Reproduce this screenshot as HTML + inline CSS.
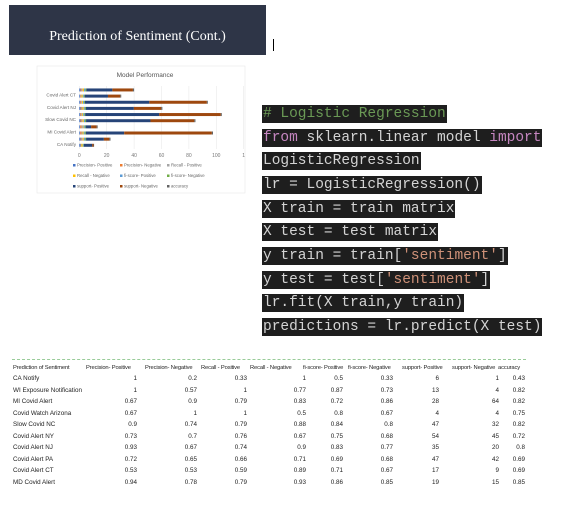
<!DOCTYPE html>
<html><head><meta charset="utf-8"><style>
body{margin:0;width:565px;height:532px;background:#fff;position:relative;overflow:hidden;font-family:"Liberation Sans",sans-serif}
.abs{position:absolute}
.code{position:absolute;left:262px;height:18px;line-height:18px;background:#1e1e1e;color:#d4d4d4;font-family:"Liberation Mono",monospace;font-size:14.5px;white-space:pre;padding:0 1px}
.kw{color:#c586c0}.str{color:#ce9178}.cm{color:#6a9955}
.t{position:absolute;font-size:6.3px;color:#222;white-space:nowrap;line-height:8px}
.h{font-size:5.8px;letter-spacing:-0.15px}
</style></head><body>
<div class="abs" style="left:9px;top:5px;width:257px;height:50px;background:#2e3547"></div>
<div class="abs" style="left:9px;top:29px;width:257px;text-align:center;color:#fff;font-family:'Liberation Serif',serif;font-size:14px;line-height:16px">Prediction of Sentiment (Cont.)</div>
<div class="abs" style="left:273px;top:39px;width:1px;height:12px;background:#000"></div>

<svg class="abs" style="left:0;top:0" width="565" height="532">
<rect x="37" y="66" width="208" height="127" fill="#fff" stroke="#e8e8e8" stroke-width="0.6"/>
<text x="145" y="77" font-size="6.5" text-anchor="middle" fill="#555">Model Performance</text>
<g id="plot"></g>
</svg>

<div>
<div class="code" style="top:105px"><span class="cm"># Logistic Regression</span></div>
<div class="code" style="top:129px"><span class="kw">from</span> sklearn.linear model <span class="kw">import</span></div>
<div class="code" style="top:152px">LogisticRegression</div>
<div class="code" style="top:176px">lr = LogisticRegression()</div>
<div class="code" style="top:200px">X train = train matrix</div>
<div class="code" style="top:223px">X test = test matrix</div>
<div class="code" style="top:247px">y train = train[<span class="str">'sentiment'</span>]</div>
<div class="code" style="top:271px">y test = test[<span class="str">'sentiment'</span>]</div>
<div class="code" style="top:294px">lr.fit(X train,y train)</div>
<div class="code" style="top:318px">predictions = lr.predict(X test)</div>
</div>

<div class="abs" style="left:12px;top:359px;width:514px;border-top:1px dashed #9c9"></div>
<div id="table"></div>

<script>
const apps=["CA Notify","WI Exposure Notification","MI Covid Alert","Covid Watch Arizona","Slow Covid NC","Covid Alert NY","Covid Alert NJ","Covid Alert PA","Covid Alert CT","MD Covid Alert"];
const seriesNames=["Precision- Positive","Precision- Negative","Recall - Positive","Recall - Negative","fi-score- Positive","fi-score- Negative","support- Positive","support- Negative","accuracy"];
const precPos=[1,1,0.67,0.67,0.9,0.73,0.93,0.72,0.53,0.94];
const precNeg=[0.2,0.57,0.9,1,0.74,0.7,0.67,0.65,0.53,0.78];
const recPos=[0.33,1,0.79,1,0.79,0.76,0.74,0.66,0.59,0.79];
const recNeg=[1,0.77,0.83,0.5,0.88,0.67,0.9,0.71,0.89,0.93];
const f1Pos=[0.5,0.87,0.72,0.8,0.84,0.75,0.83,0.69,0.71,0.86];
const f1Neg=[0.33,0.73,0.86,0.67,0.8,0.68,0.77,0.68,0.67,0.85];
const supPos=[6,13,28,4,47,54,35,47,17,19];
const supNeg=[1,4,64,4,32,45,20,42,9,15];
const accuracy=[0.43,0.82,0.82,0.75,0.82,0.72,0.8,0.69,0.69,0.85];
const xTicks=[0,20,40,60,80,100,120];
const yLabels=["CA Notify","MI Covid Alert","Slow Covid NC","Covid Alert NJ","Covid Alert CT"];
const series=[precPos,precNeg,recPos,recNeg,f1Pos,f1Neg,supPos,supNeg,accuracy];
const colors=["#4472c4","#ed7d31","#a5a5a5","#ffc000","#5b9bd5","#70ad47","#264478","#9e480e","#636363"];
const NS="http://www.w3.org/2000/svg";
const g=document.getElementById('plot');
const x=v=>79.3+v*1.37;
const y=i=>145.3-i*6.15;
function mk(t,a){const e=document.createElementNS(NS,t);for(const k in a)e.setAttribute(k,a[k]);g.appendChild(e);return e;}
xTicks.forEach(v=>{
  const l=mk('line',{x1:x(v),x2:x(v),y1:86,y2:149,stroke:'#e4e4e4','stroke-width':0.5});
  
  
  const t=mk('text',{x:x(v),y:157,'font-size':5,'text-anchor':'middle',fill:'#777'});
  t.textContent=v===120?'1':v;
  
  
});
apps.forEach((a,i)=>{
  let acc=0;
  series.forEach((s,k)=>{
    const r=mk('rect',{x:x(acc),y:y(i)-1.5,width:Math.max(0,x(acc+s[i])-x(acc)),height:3,fill:colors[k]});
    
    
    acc+=s[i];
  });
});
yLabels.forEach(n=>{
  const i=apps.indexOf(n);
  const t=mk('text',{x:76,y:y(i)+0.5,'font-size':4.6,'text-anchor':'end',fill:'#666'});
  t.textContent=n;
  
  
});
const lx=[73,120,167];
seriesNames.forEach((n,k)=>{
  const cx=lx[k%3],cy=166+Math.floor(k/3)*10.5;
  const r=mk('rect',{x:cx,y:cy-2,width:2.5,height:2.5,fill:colors[k]});
  
  
  const t=mk('text',{x:cx+4,y:cy+0.5,'font-size':4.3,fill:'#666'});
  t.textContent=n;
  
  
});
const tb=document.getElementById('table');
function cell(txt,left,top,right,hdr){
  const d=document.createElement('div');
  d.className=hdr?'t h':'t';
  d.textContent=txt;
  d.style.top=top+'px';
  if(right){d.style.right=(565-left)+'px';}else{d.style.left=left+'px';}
  
  
  tb.appendChild(d);
}
const hdrX=[13,86,145,201,250,303,348,402,452,498];
const hdrs=["Prediction of Sentiment"].concat(seriesNames);
hdrs.forEach((h,i)=>cell(h,hdrX[i],364,false,true));
const colRight=[137,197,247,306,343,393,439,499,525];
apps.forEach((a,r)=>{
  const top=375+r*11.55;
  cell(a,13,top,false,false);
  series.forEach((s,k)=>cell(String(s[r]),colRight[k],top,true,false));
});
</script>
</body></html>
